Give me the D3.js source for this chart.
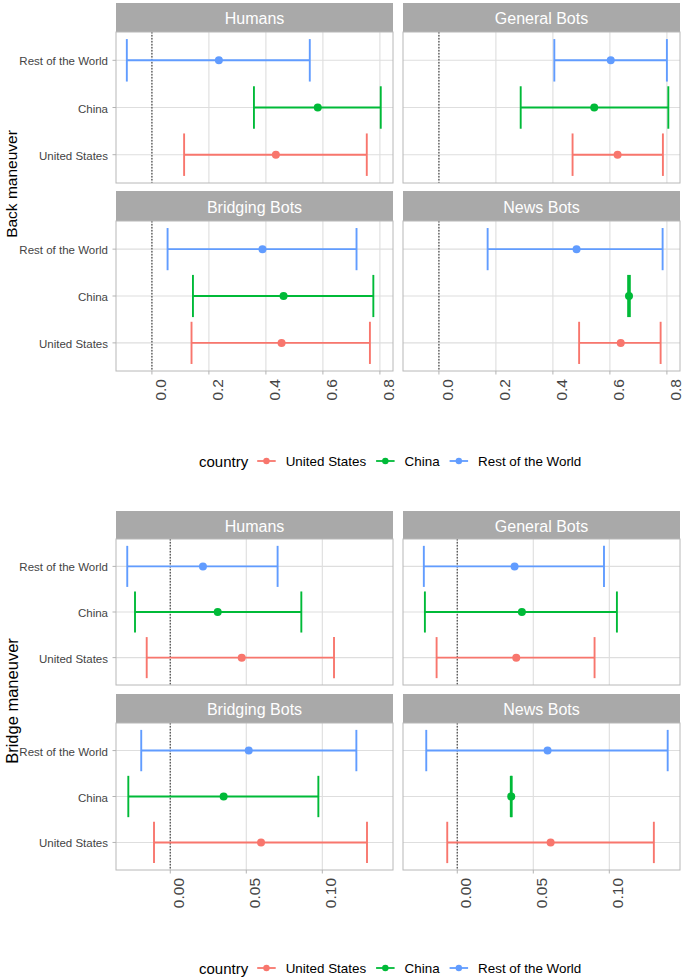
<!DOCTYPE html>
<html><head><meta charset="utf-8">
<script src="https://cdn.jsdelivr.net/npm/d3@7/dist/d3.min.js"></script>
<style>
html,body{margin:0;padding:0;background:#fff;}
svg{display:block;font-family:"Liberation Sans",Arial,Helvetica,sans-serif;}
</style></head>
<body>
<svg id="chart" width="685" height="979"></svg>
<script>
// ---------- data ----------
const countries = ["United States", "China", "Rest of the World"];
const panels = ["Humans", "General Bots", "Bridging Bots", "News Bots"];
const countryColors = ["#F8766D", "#00BA38", "#619CFF"];

// Back maneuver: one row per panel, values in order of countries
const backEst  = [[0.435, 0.582, 0.235], [0.627, 0.545, 0.603], [0.455, 0.462, 0.388], [0.638, 0.667, 0.483]];
const backLow  = [[0.113, 0.358, -0.088], [0.469, 0.287, 0.405], [0.139, 0.144, 0.055], [0.492, 0.664, 0.171]];
const backHigh = [[0.754, 0.803, 0.554], [0.786, 0.805, 0.800], [0.765, 0.777, 0.718], [0.778, 0.670, 0.785]];
const backTicks = [0, 0.2, 0.4, 0.6, 0.8];
const backTickLabels = ["0.0", "0.2", "0.4", "0.6", "0.8"];

// Bridge maneuver
const bridgeEst  = [[0.047, 0.0312, 0.0215], [0.0388, 0.0425, 0.0377], [0.0597, 0.0351, 0.0516], [0.0614, 0.0355, 0.0594]];
const bridgeLow  = [[-0.0155, -0.0232, -0.0283], [-0.0136, -0.0213, -0.022], [-0.0107, -0.0276, -0.0191], [-0.0066, 0.0352, -0.0204]];
const bridgeHigh = [[0.1077, 0.0862, 0.0706], [0.0903, 0.105, 0.0965], [0.1294, 0.0974, 0.1224], [0.1293, 0.0358, 0.1384]];
const bridgeTicks = [0, 0.05, 0.10];
const bridgeTickLabels = ["0.00", "0.05", "0.10"];

// ---------- drawing ----------
const svg = d3.select("#chart");
svg.append("rect").attr("width", 685).attr("height", 979).attr("fill", "#fff");

const colX = [[116, 393], [403, 680]];
const colorScale = d3.scaleOrdinal().domain(countries).range(countryColors);

function drawChart(opt) {
  const g = svg.append("g");
  panels.forEach((pname, pi) => {
    const col = pi % 2, row = Math.floor(pi / 2);
    const [x0, x1] = colX[col];
    const R = opt.rows[row];
    const x = d3.scaleLinear().domain(opt.domain).range([x0, x1]);
    const y = d3.scalePoint().domain(countries).range([R.panelBottom, R.panelTop]).padding(0.6);
    const step = y.step();
    const pg = g.append("g");

    // strip
    pg.append("rect").attr("x", x0).attr("y", R.stripTop).attr("width", x1 - x0)
      .attr("height", R.panelTop - R.stripTop).attr("fill", "#a9a9a9");
    pg.append("text").attr("x", (x0 + x1) / 2).attr("y", (R.stripTop + R.panelTop) / 2 + 1)
      .attr("text-anchor", "middle").attr("dominant-baseline", "central")
      .attr("fill", "#fff").style("font-size", "16px").text(pname);

    // grid
    pg.selectAll(".vg").data(opt.ticks).enter().append("line")
      .attr("x1", d => x(d)).attr("x2", d => x(d))
      .attr("y1", R.panelTop).attr("y2", R.panelBottom)
      .attr("stroke", "#dedede").attr("stroke-width", 1.1);
    pg.selectAll(".hg").data(countries).enter().append("line")
      .attr("x1", x0).attr("x2", x1)
      .attr("y1", d => y(d)).attr("y2", d => y(d))
      .attr("stroke", "#dedede").attr("stroke-width", 1.1);

    // zero reference line
    pg.append("line").attr("x1", x(0)).attr("x2", x(0))
      .attr("y1", R.panelTop).attr("y2", R.panelBottom)
      .attr("stroke", "#555").attr("stroke-width", 1.3).attr("stroke-dasharray", "1.4,1.6");

    // error bars
    const recs = countries.map((c, ci) => ({
      c, est: opt.est[pi][ci], lo: opt.low[pi][ci], hi: opt.high[pi][ci]
    }));
    const half = step * 0.45;
    const eb = pg.selectAll(".eb").data(recs).enter().append("g")
      .attr("stroke", d => colorScale(d.c)).attr("stroke-width", 1.9);
    eb.append("line").attr("x1", d => x(d.lo)).attr("x2", d => x(d.hi))
      .attr("y1", d => y(d.c)).attr("y2", d => y(d.c));
    eb.append("line").attr("x1", d => x(d.lo)).attr("x2", d => x(d.lo))
      .attr("y1", d => y(d.c) - half).attr("y2", d => y(d.c) + half);
    eb.append("line").attr("x1", d => x(d.hi)).attr("x2", d => x(d.hi))
      .attr("y1", d => y(d.c) - half).attr("y2", d => y(d.c) + half);
    pg.selectAll(".pt").data(recs).enter().append("circle")
      .attr("cx", d => x(d.est)).attr("cy", d => y(d.c)).attr("r", 4)
      .attr("fill", d => colorScale(d.c));

    // border
    pg.append("rect").attr("x", x0).attr("y", R.panelTop).attr("width", x1 - x0)
      .attr("height", R.panelBottom - R.panelTop).attr("fill", "none")
      .attr("stroke", "#b8b8b8").attr("stroke-width", 1);

    // y axis (left column)
    if (col === 0) {
      pg.selectAll(".yt").data(countries).enter().append("line")
        .attr("x1", x0 - 3.5).attr("x2", x0).attr("y1", d => y(d)).attr("y2", d => y(d))
        .attr("stroke", "#b3b3b3");
      pg.selectAll(".yl").data(countries).enter().append("text")
        .attr("x", x0 - 8).attr("y", d => y(d) + 1)
        .attr("text-anchor", "end").attr("dominant-baseline", "central")
        .attr("fill", "#444").style("font-size", "11.5px").text(d => d);
    }
    // x axis (bottom row)
    if (row === 1) {
      pg.selectAll(".xt").data(opt.ticks).enter().append("line")
        .attr("x1", d => x(d)).attr("x2", d => x(d))
        .attr("y1", R.panelBottom).attr("y2", R.panelBottom + 3.5)
        .attr("stroke", "#b3b3b3");
      pg.selectAll(".xl").data(opt.ticks).enter().append("text")
        .attr("transform", d => `translate(${x(d) + 8.5 + 0.36 * 15.5},${R.panelBottom + 8}) rotate(-90)`)
        .attr("text-anchor", "end")
        .attr("fill", "#444").style("font-size", "15.5px")
        .text((d, i) => opt.tickLabels[i]);
    }
  });

  // y axis title
  g.append("text").attr("transform", `translate(${opt.titleX},${opt.titleY}) rotate(-90)`)
    .attr("text-anchor", "middle").attr("fill", "#000")
    .style("font-size", opt.titleSize + "px").text(opt.title);

  // legend
  const lg = g.append("g").attr("transform", `translate(0,${opt.legendY})`);
  let cx = 199;
  const lt = lg.append("text").attr("x", cx).attr("y", 0).attr("dominant-baseline", "central")
    .attr("fill", "#000").style("font-size", "15px").text("country");
  cx += lt.node().getComputedTextLength() + 9;
  countries.forEach((c, ci) => {
    lg.append("line").attr("x1", cx).attr("x2", cx + 18.5).attr("y1", 0).attr("y2", 0)
      .attr("stroke", colorScale(c)).attr("stroke-width", 1.8);
    lg.append("circle").attr("cx", cx + 9.25).attr("cy", 0).attr("r", 3.2)
      .attr("fill", colorScale(c));
    cx += 18.5 + 10;
    const t = lg.append("text").attr("x", cx).attr("y", 0).attr("dominant-baseline", "central")
      .attr("fill", "#000").style("font-size", "13.4px").text(c);
    cx += t.node().getComputedTextLength() + 10;
  });
}

drawChart({
  est: backEst, low: backLow, high: backHigh,
  ticks: backTicks, tickLabels: backTickLabels,
  domain: [-0.126, 0.846],
  rows: [{stripTop: 3, panelTop: 32, panelBottom: 183}, {stripTop: 191, panelTop: 221, panelBottom: 371}],
  title: "Back maneuver", titleX: 17, titleY: 184, titleSize: 15.5,
  legendY: 461
});
drawChart({
  est: bridgeEst, low: bridgeLow, high: bridgeHigh,
  ticks: bridgeTicks, tickLabels: bridgeTickLabels,
  domain: [-0.0357, 0.1465],
  rows: [{stripTop: 511, panelTop: 539, panelBottom: 685}, {stripTop: 694, panelTop: 723, panelBottom: 870}],
  title: "Bridge maneuver", titleX: 17.5, titleY: 701, titleSize: 16.5,
  legendY: 968
});
</script>
</body></html>
